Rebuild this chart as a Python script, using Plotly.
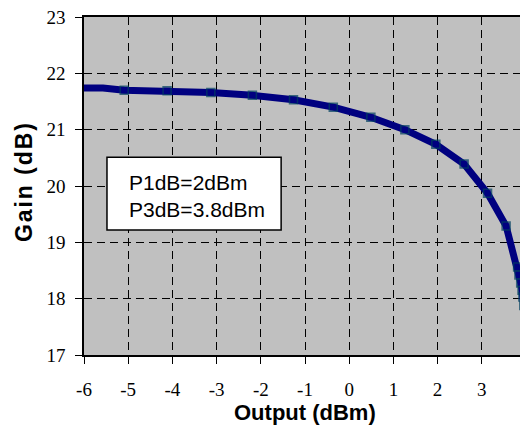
import plotly.graph_objects as go

output_dbm = [-6.3, -5.57, -5.09, -4.12, -3.13, -2.19, -1.26, -0.36, 0.49, 1.26, 1.96, 2.60,
              3.13, 3.55, 3.81, 3.84, 3.88, 3.91, 3.93, 3.95, 3.98, 4.03]
gain_db = [21.74, 21.74, 21.70, 21.69, 21.66, 21.61, 21.53, 21.40, 21.22, 21.00, 20.74, 20.39,
           19.87, 19.29, 18.56, 18.42, 18.28, 18.15, 18.03, 17.88, 17.74, 16.8]
show_marker = [0, 0, 1, 1, 1, 1, 1, 1, 1, 1, 1, 1, 1, 1, 1, 1, 1, 1, 1, 1, 1, 0]

x_ticks = [-6, -5, -4, -3, -2, -1, 0, 1, 2, 3, 4]
y_ticks = [17, 18, 19, 20, 21, 22, 23]
x_title = "Output (dBm)"
y_title = "Gain (dB)"
note_lines = ["P1dB=2dBm", "P3dB=3.8dBm"]

fig = go.Figure()
fig.add_trace(go.Scatter(
    x=output_dbm, y=gain_db, mode="lines+markers",
    line=dict(color="#000080", width=7),
    marker=dict(symbol="square", size=[8 * m for m in show_marker], color="#000080",
                line=dict(color="#004060", width=1.5)),
    showlegend=False, hoverinfo="x+y",
))

tick_font = dict(family="Liberation Serif, DejaVu Serif, serif", size=19, color="black")
grid_common = dict(showgrid=True, gridcolor="black", gridwidth=1, griddash="8px,5px",
                   showline=True, linecolor="black", linewidth=1.5, mirror=True,
                   ticks="outside", ticklen=7, tickcolor="black", tickwidth=1,
                   zeroline=False, tickfont=tick_font, automargin=False,
                   ticklabeloverflow="allow")

fig.update_xaxes(range=[-6, 4], tickvals=x_ticks, ticktext=[str(v) for v in x_ticks],
                 ticklabelstandoff=9, **grid_common)
fig.update_yaxes(range=[17, 23], tickvals=y_ticks, ticktext=[str(v) for v in y_ticks],
                 ticklabelstandoff=6, **grid_common)

title_font_family = "Liberation Sans, Arial, sans-serif"
hs = "\u200a"
fig.add_annotation(xref="paper", yref="paper", x=0.5, y=0, xanchor="center", yanchor="middle",
                   yshift=-57, showarrow=False, text="<b>" + x_title + "</b>",
                   font=dict(family=title_font_family, size=22, color="black"))
fig.add_annotation(xref="paper", yref="paper", x=0, y=0.5, xanchor="center", yanchor="middle",
                   xshift=-60, yshift=3, textangle=-90, showarrow=False,
                   text="<b>" + hs.join(y_title) + "</b>",
                   font=dict(family=title_font_family, size=23, color="black"))

fig.add_shape(type="rect", xref="x", yref="y", x0=-5.48, x1=-1.54, y0=19.22, y1=20.51,
              fillcolor="white", line=dict(color="black", width=1.5), layer="above")
fig.add_annotation(xref="x", yref="y", x=-5.03, y=19.83, xanchor="left", yanchor="middle",
                   text="<br>".join(note_lines), align="left", showarrow=False,
                   font=dict(family=title_font_family, size=21, color="black"))

# the page body adds an 8px offset; figure size and margins compensate so the plot
# lands where the reference has it
fig.update_layout(
    width=520, height=420,
    margin=dict(l=76, r=2, t=9, b=73),
    paper_bgcolor="white", plot_bgcolor="#C0C0C0",
)

fig.write_html("out.html")
